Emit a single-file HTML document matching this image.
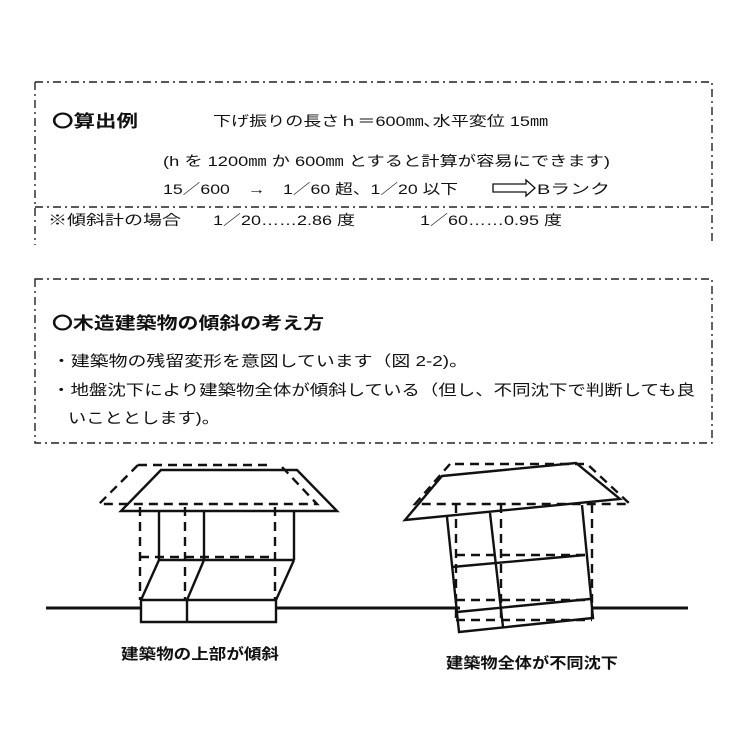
<!DOCTYPE html>
<html><head><meta charset="utf-8"><style>
html,body{margin:0;padding:0;background:#fff;width:736px;height:736px;overflow:hidden}
svg text{font-family:"Liberation Sans","Noto Sans CJK JP",sans-serif;fill:#111}
</style></head><body>
<svg width="736" height="736" viewBox="0 0 736 736" xmlns="http://www.w3.org/2000/svg">
<g fill="none" stroke="#222" stroke-width="1.4" stroke-dasharray="8,4,2,4">
<path d="M35 82 H712 V245"/><path d="M35 82 V245"/>
<path d="M35 207 H712"/>
<rect x="35" y="279" width="677" height="164"/>
</g>
<text x="52" y="127" font-size="17" font-weight="bold" textLength="86" lengthAdjust="spacingAndGlyphs" style="font-family:'Noto Sans CJK JP',sans-serif">〇算出例</text>
<text x="213" y="126" font-size="14" textLength="335" lengthAdjust="spacingAndGlyphs">下げ振りの長さｈ＝600㎜､水平変位 15㎜</text>
<text x="163" y="166" font-size="14" textLength="447" lengthAdjust="spacingAndGlyphs">(h を 1200㎜ か 600㎜ とすると計算が容易にできます)</text>
<text x="163" y="194" font-size="14" textLength="295" lengthAdjust="spacingAndGlyphs">15／600　→　1／60 超、1／20 以下</text>
<path d="M493 184 H526 V180 L535 188 L526 196 V192 H493 Z" fill="none" stroke="#111" stroke-width="1.3"/>
<text x="537" y="194" font-size="14" textLength="73" lengthAdjust="spacingAndGlyphs">Bランク</text>
<text x="48" y="225" font-size="14" textLength="133" lengthAdjust="spacingAndGlyphs">※傾斜計の場合</text>
<text x="213" y="225" font-size="14" textLength="142" lengthAdjust="spacingAndGlyphs">1／20……2.86 度</text>
<text x="420" y="225" font-size="14" textLength="142" lengthAdjust="spacingAndGlyphs">1／60……0.95 度</text>
<text x="52" y="329" font-size="17" font-weight="bold" textLength="272" lengthAdjust="spacingAndGlyphs" style="font-family:'Noto Sans CJK JP',sans-serif">〇木造建築物の傾斜の考え方</text>
<text x="52" y="366" font-size="15" textLength="416" lengthAdjust="spacingAndGlyphs">・建築物の残留変形を意図しています（図 2-2)。</text>
<text x="52" y="395" font-size="15" textLength="643" lengthAdjust="spacingAndGlyphs">・地盤沈下により建築物全体が傾斜している（但し、不同沈下で判断しても良</text>
<text x="68" y="423" font-size="15" textLength="152" lengthAdjust="spacingAndGlyphs">いこととします)。</text>
<g stroke="#111" stroke-width="3" fill="none">
<path d="M46 608 H141 M276 608 H460 M593 608 H688"/>
</g>
<g stroke="#111" stroke-width="2.4" fill="none">
<path d="M161 470 H297 L337 511 H121 Z"/>
<path d="M159 511 V560 M204 511 V560 M294 511 V560 M159 560 H294"/>
<path d="M159 560 L141 600 M204 560 L187 600 M294 560 L276 600"/>
<path d="M141 600 H276 V622 H141 Z M187 600 V622"/>
<path d="M442 476 L576 463 L620 499 L405 520 Z"/>
<path d="M447 517 L459 632 L593 618 L582 505"/>
<path d="M490 513 L503 627 M452 567 L585 555 M457 612 L590 599"/>
</g>
<g stroke="#111" stroke-width="2.4" fill="none" stroke-dasharray="9,6">
<path d="M138 465 H270 M138 465 L99 504 H317 L282 467"/>
<path d="M140 507 V600 M185 507 V600 M275 507 V600 M140 557 H275"/>
<path d="M455 464 H587 L630 504 H415 L450 464"/>
<path d="M456 504 V620 M592 504 V620 M501 504 V620 M456 555 H592 M456 600 H592 M456 620 H592"/>
</g>
<text x="200" y="659" font-size="15" font-weight="bold" text-anchor="middle" textLength="158" lengthAdjust="spacingAndGlyphs">建築物の上部が傾斜</text>
<text x="532" y="668" font-size="15" font-weight="bold" text-anchor="middle" textLength="172" lengthAdjust="spacingAndGlyphs">建築物全体が不同沈下</text>
</svg>
</body></html>
